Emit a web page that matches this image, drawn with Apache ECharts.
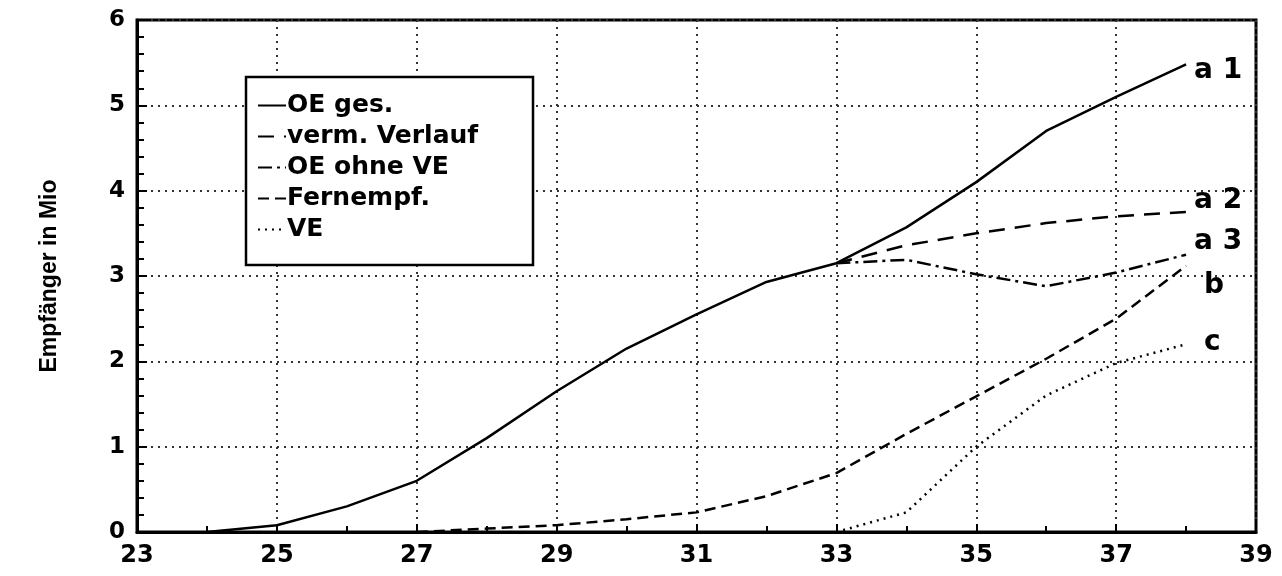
<!DOCTYPE html>
<html>
<head>
<meta charset="utf-8">
<script src="https://cdn.jsdelivr.net/npm/echarts@6/dist/echarts.min.js"></script>
<style>
  html, body { margin: 0; padding: 0; background: #fff; }
  #chart { width: 1282px; height: 576px; }
</style>
</head>
<body>
<div id="chart"></div>
<script>
// Daten (Mio Empfänger)
const xOE = [24, 25, 26, 27, 28, 29, 30, 31, 32, 33, 34, 35, 36, 37, 38];
const yOE = [0, 0.08, 0.3, 0.6, 1.1, 1.65, 2.15, 2.55, 2.93, 3.15, 3.57, 4.1, 4.7, 5.1, 5.48];

const xVerm = [33, 34, 35, 36, 37, 38];
const yVerm = [3.15, 3.36, 3.5, 3.62, 3.7, 3.75];

const xOhneVE = [33, 34, 35, 36, 37, 38];
const yOhneVE = [3.15, 3.19, 3.02, 2.88, 3.04, 3.25];

const xFern = [27, 28, 29, 30, 31, 32, 33, 34, 35, 36, 37, 38];
const yFern = [0, 0.04, 0.08, 0.15, 0.23, 0.42, 0.69, 1.15, 1.59, 2.03, 2.5, 3.12];

const xVE = [33, 34, 35, 36, 37, 38];
const yVE = [0, 0.23, 1.0, 1.6, 1.98, 2.2];

const legendNames = ['OE ges.', 'verm. Verlauf', 'OE ohne VE', 'Fernempf.', 'VE'];
const endTags = ['a 1', 'a 2', 'a 3', 'b', 'c'];
const xTicks = [23, 25, 27, 29, 31, 33, 35, 37, 39];

const FONT = 'DejaVu Sans';

function pairs(xs, ys) {
    return xs.map((x, i) => [x, ys[i]]);
}

function lineSeries(idx, xs, ys, dash, offset) {
    return {
        name: legendNames[idx],
        type: 'line',
        data: pairs(xs, ys),
        symbol: 'none',
        smooth: false,
        z: 3,
        itemStyle: { color: '#000' },
        lineStyle: { color: '#000', width: 2.5, type: dash },
        endLabel: {
            show: true,
            formatter: endTags[idx],
            color: '#000',
            fontFamily: FONT,
            fontWeight: 'bold',
            fontSize: 28,
            distance: 8,
            offset: offset
        }
    };
}

const chart = echarts.init(document.getElementById('chart'));

chart.setOption({
    animation: false,
    backgroundColor: '#fff',
    grid: {
        left: 137, right: 26, top: 20, bottom: 44,
        show: true, borderColor: '#000', borderWidth: 3
    },
    legend: {
        orient: 'vertical',
        left: 252, top: 88,
        z: 10,
        itemWidth: 28,
        itemHeight: 14,
        itemGap: 6,
        itemStyle: { opacity: 0 },
        textStyle: { fontFamily: FONT, fontWeight: 'bold', fontSize: 25, color: '#000', padding: [0, 0, 0, -4] },
        data: legendNames
    },
    graphic: [{
        type: 'rect',
        z: 9,
        shape: { x: 246, y: 77, width: 287, height: 188 },
        style: { fill: '#fff', stroke: '#000', lineWidth: 2.5 }
    }],
    xAxis: {
        type: 'value',
        min: 23, max: 39, interval: 2,
        axisLine: { show: true, lineStyle: { color: '#000', width: 3 } },
        axisTick: { show: true, inside: true, length: 8, lineStyle: { color: '#000', width: 2 } },
        minorTick: { show: true, splitNumber: 2, length: 6, lineStyle: { color: '#000', width: 2 } },
        axisLabel: {
            margin: 12, color: '#000', fontFamily: FONT, fontWeight: 'bold', fontSize: 24,
            formatter: v => xTicks.includes(v) ? String(v) : ''
        },
        splitLine: { show: true, lineStyle: { color: '#333', width: 2, type: [2, 5] } }
    },
    yAxis: {
        type: 'value',
        min: 0, max: 6, interval: 1,
        name: 'Empfänger in Mio',
        nameLocation: 'middle',
        nameGap: 76,
        nameTextStyle: { fontFamily: 'Liberation Sans', fontWeight: 'bold', fontSize: 23, color: '#000' },
        axisLine: { show: true, lineStyle: { color: '#000', width: 3 } },
        axisTick: { show: true, inside: true, length: 10, lineStyle: { color: '#000', width: 2 } },
        minorTick: { show: true, splitNumber: 5, length: 7, lineStyle: { color: '#000', width: 2 } },
        axisLabel: { margin: 12, color: '#000', fontFamily: FONT, fontWeight: 'bold', fontSize: 23 },
        splitLine: { show: true, lineStyle: { color: '#333', width: 2, type: [2, 5] } }
    },
    series: [
        lineSeries(0, xOE, yOE, 'solid', [0, 6]),
        lineSeries(1, xVerm, yVerm, [16, 10], [0, -11]),
        lineSeries(2, xOhneVE, yOhneVE, [14, 5, 3, 5], [0, -13]),
        lineSeries(3, xFern, yFern, [11, 6], [10, 20]),
        lineSeries(4, xVE, yVE, [2, 5], [10, -2])
    ]
});
</script>
</body>
</html>
